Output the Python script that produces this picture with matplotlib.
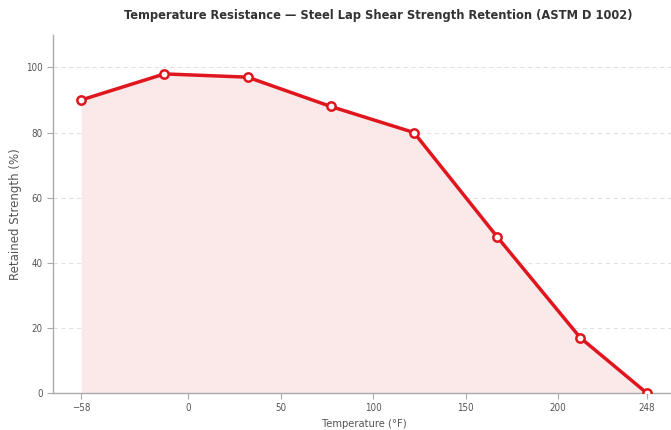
import matplotlib
matplotlib.use("Agg")
import matplotlib.pyplot as plt

# temperatures (deg F) and retained strength (%)
temps = [-58, -13, 32, 77, 122, 167, 212, 248]
retained = [90, 98, 97, 88, 80, 48, 17, 0]
xticks = [-58, 0, 50, 100, 150, 200, 248]
yticks = [0, 20, 40, 60, 80, 100]

red = "#e0161e"

fig = plt.figure(figsize=(6.71, 4.30), dpi=100)
ax = fig.add_axes([0.079, 0.086, 0.927, 0.833])

ax.fill_between(temps, retained, 0, color="#fbe8e8", lw=0, zorder=1)
ax.plot(temps, retained, color=red, lw=2.5, zorder=3,
        marker="o", ms=6, mfc="white", mec=red, mew=1.8)

ax.set_xlim(-73.3, 263.3)
ax.set_ylim(0, 110)
ax.set_xticks(xticks)
ax.set_xticklabels(["\u221258" if t == -58 else str(t) for t in xticks])
ax.set_yticks(yticks)

ax.grid(axis="y", ls=(0, (4, 3)), color="#e2e2e2", lw=0.8)
ax.set_axisbelow(True)
for s in ["top", "right"]:
    ax.spines[s].set_visible(False)
for s in ["left", "bottom"]:
    ax.spines[s].set_color("#aaaaaa")
    ax.spines[s].set_linewidth(1.0)

ax.tick_params(colors="#aaaaaa", labelcolor="#555555", labelsize=7, length=4)
for lbl in ax.get_xticklabels() + ax.get_yticklabels():
    lbl.set_fontstretch("condensed")

ax.set_xlabel("Temperature (\u00b0F)", fontsize=8, color="#555555",
              fontstretch="condensed", labelpad=4)
ax.set_ylabel("Retained Strength (%)", fontsize=8.5, color="#555555")
ax.yaxis.set_label_coords(-0.05, 0.5)
fig.suptitle("Temperature Resistance \u2014 Steel Lap Shear Strength Retention (ASTM D 1002)",
             x=0.564, y=0.98, fontsize=9.2, fontweight="bold", color="#333333",
             fontstretch="condensed")

fig.savefig("out.png", dpi=100)
